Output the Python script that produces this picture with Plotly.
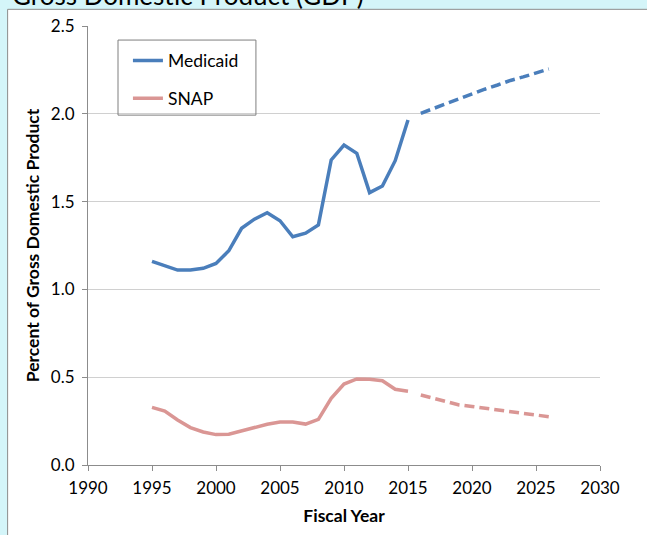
import plotly.graph_objects as go

# ---- data ----
years_hist = list(range(1995, 2016))
medicaid_hist = [1.16, 1.135, 1.11, 1.11, 1.12, 1.148, 1.22, 1.348, 1.40, 1.437, 1.391,
                 1.30, 1.32, 1.367, 1.737, 1.822, 1.775, 1.551, 1.589, 1.733, 1.965]
snap_hist = [0.328, 0.307, 0.256, 0.213, 0.188, 0.173, 0.175, 0.194, 0.215, 0.232, 0.245,
             0.245, 0.233, 0.26, 0.38, 0.461, 0.49, 0.488, 0.48, 0.431, 0.42]
years_proj = list(range(2016, 2027))
medicaid_proj = [2.003, 2.031, 2.06, 2.088, 2.113, 2.14, 2.164, 2.19, 2.21, 2.234, 2.255]
snap_proj = [0.399, 0.38, 0.357, 0.342, 0.333, 0.323, 0.31, 0.30, 0.29, 0.282, 0.275]

x_ticks = [1990, 1995, 2000, 2005, 2010, 2015, 2020, 2025, 2030]
y_ticks = [0.0, 0.5, 1.0, 1.5, 2.0, 2.5]

BLUE = "#4a7ebb"
PINK = "#da9694"
CYAN = "#d4f5f9"
FONT = "Lato"

fig = go.Figure()
fig.add_trace(go.Scatter(x=years_hist, y=medicaid_hist, mode="lines", name="Medicaid",
                         line=dict(color=BLUE, width=3.5), legendgroup="m"))
fig.add_trace(go.Scatter(x=years_proj, y=medicaid_proj, mode="lines", showlegend=False,
                         line=dict(color=BLUE, width=3.5, dash="10px,5px"), legendgroup="m"))
fig.add_trace(go.Scatter(x=years_hist, y=snap_hist, mode="lines", name="SNAP",
                         line=dict(color=PINK, width=3.5), legendgroup="s"))
fig.add_trace(go.Scatter(x=years_proj, y=snap_proj, mode="lines", showlegend=False,
                         line=dict(color=PINK, width=3.5, dash="10px,5px"), legendgroup="s"))

fig.update_layout(
    width=647, height=535,
    margin=dict(l=88, r=47, t=26, b=70),
    paper_bgcolor=CYAN,
    plot_bgcolor="white",
    font=dict(family=FONT, size=17, color="black"),
    showlegend=True,
    legend=dict(x=0.078, y=0.962, xanchor="left", yanchor="top",
                bgcolor="rgba(0,0,0,0)", borderwidth=0,
                font=dict(family=FONT, size=17.5), tracegroupgap=12,
                traceorder="grouped"),
    shapes=[
        dict(type="rect", xref="paper", yref="paper", x0=-0.157, x1=1.3, y0=-0.4, y1=1.038,
             line=dict(color="#8c8c8c", width=1), fillcolor="white", layer="below"),
        dict(type="rect", xref="paper", yref="paper", x0=0.0586, x1=0.328, y0=0.797, y1=0.968,
             line=dict(color="#7f7f7f", width=1), fillcolor="rgba(0,0,0,0)", layer="above"),
    ],
    annotations=[
        dict(text="Gross Domestic Product (GDP)", xref="paper", yref="paper",
             x=-0.152, y=1.0305, xanchor="left", yanchor="bottom", showarrow=False,
             font=dict(family=FONT, size=26, color="black")),
    ],
)
fig.update_xaxes(range=[1990, 2030], tickvals=x_ticks, ticktext=[str(v) for v in x_ticks],
                 showgrid=False, zeroline=False, showline=True, linecolor="#8c8c8c",
                 ticks="outside", ticklen=5, tickcolor="#8c8c8c", ticklabelstandoff=3,
                 tickfont=dict(family=FONT, size=17),
                 title=dict(text="<b>Fiscal Year</b>", standoff=12,
                            font=dict(family=FONT, size=17.5)))
fig.update_yaxes(range=[0, 2.5], tickvals=y_ticks, ticktext=[f"{v:.1f}" for v in y_ticks],
                 showgrid=True, gridcolor="#d0d0d0", gridwidth=1, zeroline=False,
                 showline=True, linecolor="#8c8c8c",
                 ticks="outside", ticklen=5, tickcolor="#8c8c8c", ticklabelstandoff=4,
                 tickfont=dict(family=FONT, size=17),
                 title=dict(text="<b>Percent of Gross Domestic Product</b>", standoff=6,
                            font=dict(family=FONT, size=17.5)))

fig.write_html(
    "out.html",
    config={"displayModeBar": False},
    post_script=f"document.body.style.margin='0';document.body.style.background='{CYAN}';",
)
